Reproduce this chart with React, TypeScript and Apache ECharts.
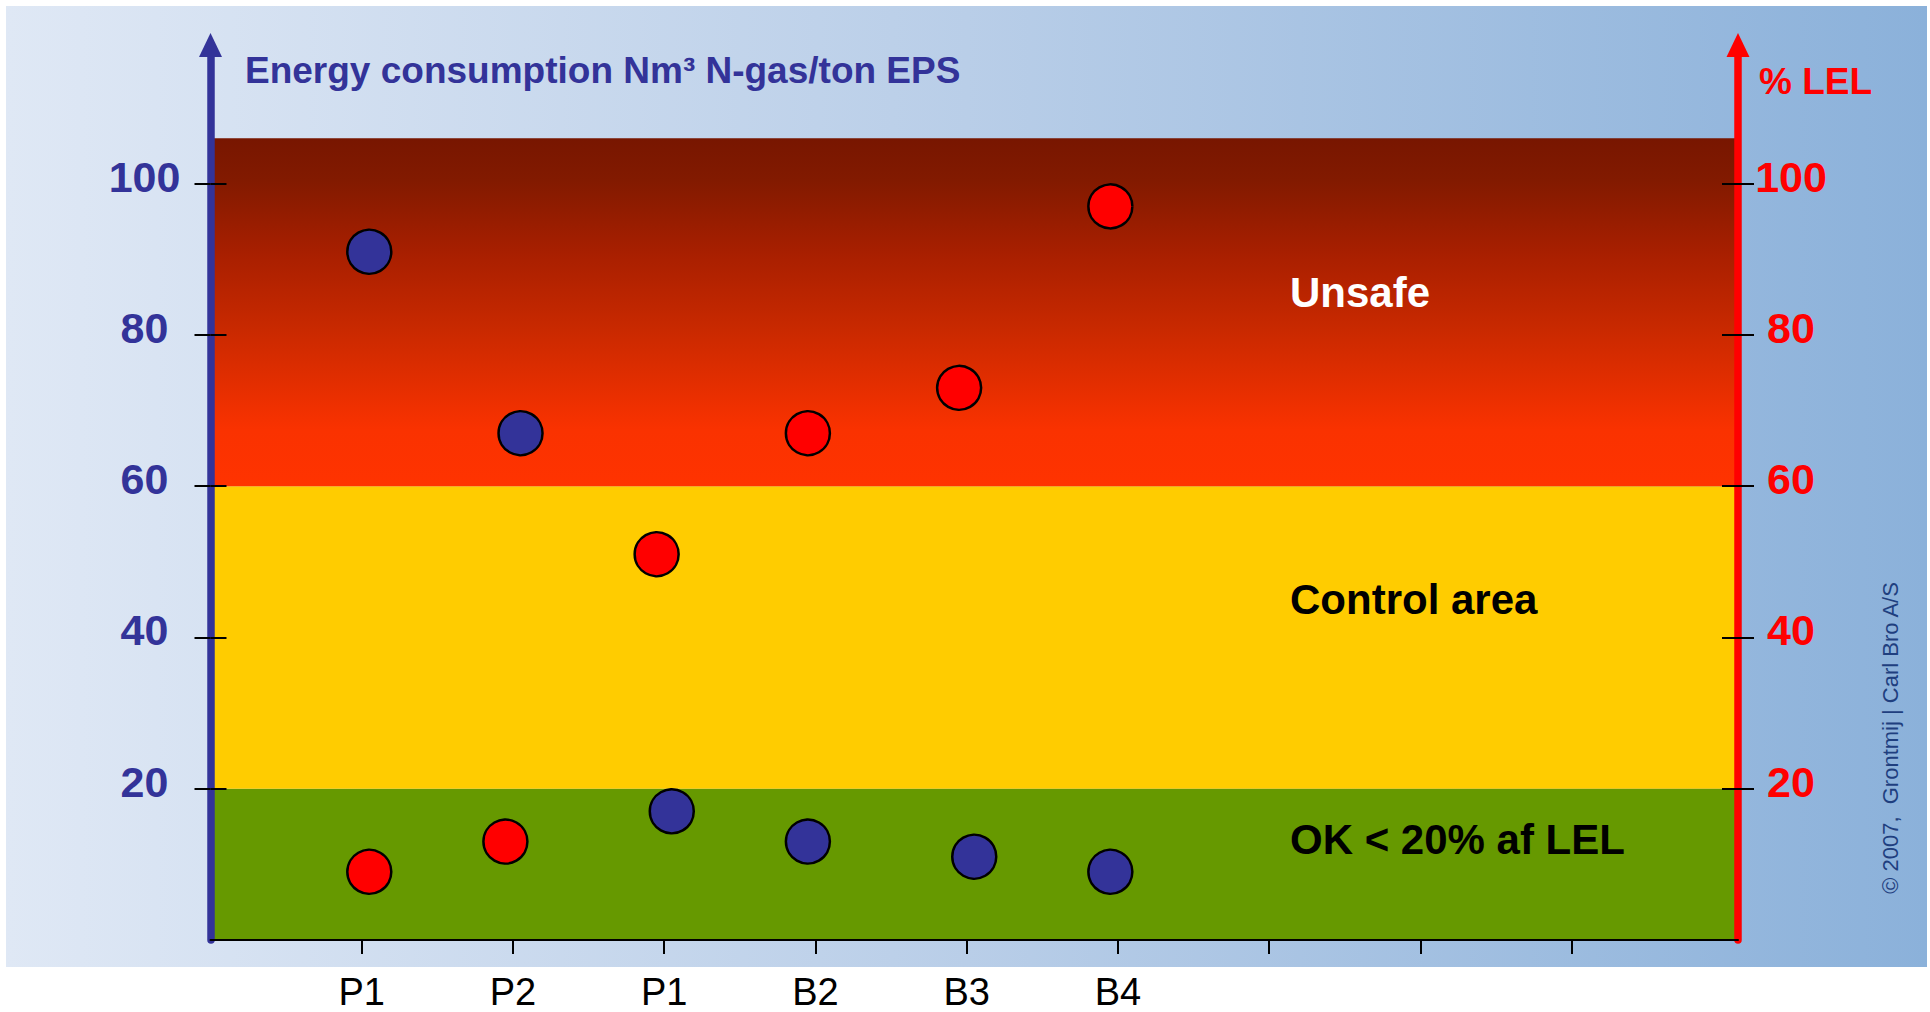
import React, { useEffect, useRef } from 'react';
import * as echarts from 'echarts';

const categories = ['P1', 'P2', 'P1', 'B2', 'B3', 'B4'];
const energyPoints = [[1.05, 91], [2.05, 67], [3.05, 17], [3.95, 13], [5.05, 11], [5.95, 9]];
const lelPoints = [[1.05, 9], [1.95, 13], [2.95, 51], [3.95, 67], [4.95, 73], [5.95, 97]];
const yTicks = [20, 40, 60, 80, 100];
const xTicks = [1, 2, 3, 4, 5, 6, 7, 8, 9];
const xLabelTicks = [1, 2, 3, 4, 5, 6];
const okBand = [0, 20];
const controlBand = [20, 60];
const unsafeBand = [60, 106];

const FONT = '"Liberation Sans", Arial, Helvetica, sans-serif';
const BLUE = '#333399';
const RED = '#ff0000';

export default function App() {
  const ref = useRef<HTMLDivElement>(null);
  useEffect(() => {
    const chart = echarts.init(ref.current!, null, { renderer: 'svg' });
    const yMax = 118.34;
    const yBase = {
      type: 'value',
      min: 0,
      max: yMax,
      splitLine: { show: false },
      z: 10,
    };
    const mainY = (pos: string, color: string, margin: number) => ({
      ...yBase,
      position: pos,
      axisLine: {
        show: true,
        onZero: false,
        symbol: ['none', 'triangle'],
        symbolSize: [23, 24],
        lineStyle: { color, width: 7.5 },
      },
      axisTick: {
        show: true,
        inside: false,
        length: 16,
        customValues: yTicks,
        lineStyle: { color: '#000', width: 2 },
      },
      axisLabel: {
        show: true,
        customValues: yTicks,
        margin,
        align: 'center',
        verticalAlign: 'bottom',
        lineHeight: 14,
        color,
        fontFamily: FONT,
        fontWeight: 'bold',
        fontSize: 43,
      },
    });
    const innerY = (pos: string) => ({
      ...yBase,
      position: pos,
      axisLine: { show: false, onZero: false },
      axisLabel: { show: false },
      axisTick: {
        show: true,
        inside: true,
        length: 16,
        customValues: yTicks,
        lineStyle: { color: '#000', width: 2 },
      },
    });

    const option: any = {
      animation: false,
      grid: { left: 210.5, right: 192, top: 45, bottom: 72.1, containLabel: false },
      xAxis: {
        type: 'value',
        min: 0,
        max: 10.1,
        interval: 1,
        splitLine: { show: false },
        z: 10,
        axisLine: { show: true, onZero: false, lineStyle: { color: '#000', width: 2 } },
        axisTick: {
          show: true,
          length: 14,
          customValues: xTicks,
          lineStyle: { color: '#000', width: 2 },
        },
        axisLabel: {
          show: true,
          customValues: xLabelTicks,
          margin: 33,
          color: '#000',
          fontFamily: FONT,
          fontSize: 38,
          formatter: (v: number) => categories[Math.round(v) - 1] ?? '',
        },
      },
      yAxis: [mainY('left', BLUE, 66), mainY('right', RED, 53), innerY('left'), innerY('right')],
      graphic: [
        {
          type: 'rect',
          z: -10,
          silent: true,
          shape: { x: 6, y: 6, width: 1921, height: 961 },
          style: {
            fill: new echarts.graphic.LinearGradient(0, 0, 1, 0, [
              { offset: 0, color: '#dfe8f5' },
              { offset: 0.5, color: '#b9cee8' },
              { offset: 1, color: '#8bb1da' },
            ]),
          },
        },
        {
          type: 'text',
          z: 20,
          x: 245,
          y: 70,
          style: {
            text: 'Energy consumption Nm³ N-gas/ton EPS',
            fill: BLUE,
            font: `bold 37px ${FONT}`,
            align: 'left',
            verticalAlign: 'middle',
          },
        },
        {
          type: 'text',
          z: 20,
          x: 1759,
          y: 81,
          style: {
            text: '% LEL',
            fill: RED,
            font: `bold 37px ${FONT}`,
            align: 'left',
            verticalAlign: 'middle',
          },
        },
        {
          type: 'text',
          z: 20,
          x: 1290,
          y: 292.5,
          style: { text: 'Unsafe', fill: '#ffffff', font: `bold 42px ${FONT}`, align: 'left', verticalAlign: 'middle' },
        },
        {
          type: 'text',
          z: 20,
          x: 1290,
          y: 599.5,
          style: { text: 'Control area', fill: '#000000', font: `bold 42px ${FONT}`, align: 'left', verticalAlign: 'middle' },
        },
        {
          type: 'text',
          z: 20,
          x: 1290,
          y: 839.5,
          style: { text: 'OK < 20% af LEL', fill: '#000000', font: `bold 42px ${FONT}`, align: 'left', verticalAlign: 'middle' },
        },
        {
          type: 'text',
          z: 20,
          x: 1890,
          y: 738,
          rotation: Math.PI / 2,
          style: {
            text: '© 2007,  Grontmij | Carl Bro A/S',
            fill: '#1f3f7f',
            font: `22px ${FONT}`,
            align: 'center',
            verticalAlign: 'middle',
          },
        },
      ],
      series: [
        {
          name: 'Energy consumption',
          type: 'scatter',
          xAxisIndex: 0,
          yAxisIndex: 0,
          z: 5,
          symbol: 'circle',
          symbolSize: 44,
          itemStyle: { color: BLUE, borderColor: '#000', borderWidth: 2.5, opacity: 1 },
          data: energyPoints,
          markArea: {
            silent: true,
            z: 1,
            data: [
              [{ yAxis: okBand[0], itemStyle: { color: '#669900', opacity: 1 } }, { yAxis: okBand[1] }],
              [{ yAxis: controlBand[0], itemStyle: { color: '#ffcc00', opacity: 1 } }, { yAxis: controlBand[1] }],
              [
                {
                  yAxis: unsafeBand[0],
                  itemStyle: {
                    opacity: 1,
                    color: new echarts.graphic.LinearGradient(0, 0, 0, 1, [
                      { offset: 0, color: '#781600' },
                      { offset: 0.12, color: '#821a00' },
                      { offset: 0.33, color: '#a81f00' },
                      { offset: 0.55, color: '#c92900' },
                      { offset: 0.84, color: '#fa3200' },
                      { offset: 1, color: '#ff3300' },
                    ]),
                  },
                },
                { yAxis: unsafeBand[1] },
              ],
            ],
          },
        },
        {
          name: '% LEL',
          type: 'scatter',
          xAxisIndex: 0,
          yAxisIndex: 1,
          z: 5,
          symbol: 'circle',
          symbolSize: 44,
          itemStyle: { color: RED, borderColor: '#000', borderWidth: 2.5, opacity: 1 },
          data: lelPoints,
        },
      ],
    };
    chart.setOption(option);
    return () => chart.dispose();
  }, []);
  return (
    <div
      ref={ref}
      style={{ position: 'absolute', left: 0, top: 0, width: 1930, height: 1012 }}
    />
  );
}
